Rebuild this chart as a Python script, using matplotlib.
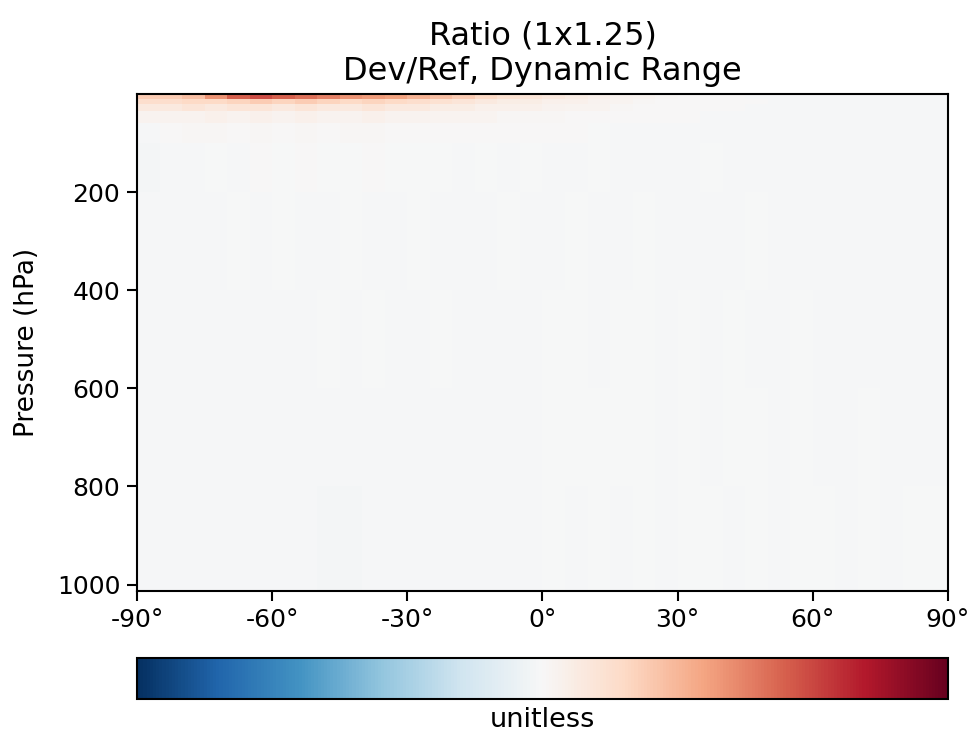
import matplotlib
matplotlib.use("Agg")
import matplotlib.pyplot as plt
import numpy as np

# zonal-mean ratio (Dev/Ref), 5 deg latitude bands x pressure layers
lat_edges = list(range(-90, 95, 5))
pres_edges = [0.01, 3, 10, 20, 35, 60, 100, 200, 400, 600, 800, 1013]

# rows top (low pressure) -> bottom (surface), columns -90 -> 90
ratio_rows = [
    [0.70, 0.86, 1.05, 1.22, 1.32, 1.34, 1.31, 1.28, 1.25, 1.22, 1.20, 1.18,
     1.16, 1.14, 1.12, 1.10, 1.08, 1.06, 1.05, 1.04, 1.03, 1.02, 1.01, 1.005,
     1.00, 1.00, 0.995, 0.995, 0.995, 0.995, 0.995, 0.995, 0.995, 0.995, 0.995, 0.995],
    [1.10, 1.10, 1.12, 1.18, 1.24, 1.26, 1.24, 1.22, 1.20, 1.18, 1.17, 1.16,
     1.14, 1.12, 1.10, 1.08, 1.06, 1.05, 1.04, 1.03, 1.02, 1.015, 1.01, 1.005,
     1.00, 1.00, 1.00, 0.995, 0.995, 0.995, 0.995, 0.995, 0.995, 0.995, 0.995, 0.995],
    [1.07, 1.07, 1.08, 1.08, 1.09, 1.10, 1.09, 1.10, 1.09, 1.08, 1.09, 1.08,
     1.07, 1.06, 1.05, 1.04, 1.03, 1.03, 1.02, 1.02, 1.015, 1.01, 1.005, 1.00,
     1.00, 1.00, 1.00, 1.00, 0.995, 0.995, 0.995, 0.995, 0.995, 0.995, 0.995, 0.995],
    [1.04, 1.04, 1.05, 1.04, 1.05, 1.05, 1.04, 1.05, 1.04, 1.04, 1.05, 1.04,
     1.04, 1.03, 1.03, 1.02, 1.02, 1.02, 1.015, 1.01, 1.01, 1.005, 1.00, 1.00,
     1.00, 1.00, 1.00, 0.995, 0.995, 0.995, 0.995, 0.995, 0.995, 0.995, 0.995, 0.995],
    [1.015, 1.015, 1.015, 1.02, 1.015, 1.02, 1.015, 1.02, 1.015, 1.015, 1.02, 1.015,
     1.015, 1.01, 1.01, 1.01, 1.005, 1.005, 1.005, 1.00, 1.00, 1.00, 1.00, 1.00,
     1.00, 0.995, 0.995, 0.995, 0.995, 0.995, 0.995, 0.995, 0.995, 0.995, 0.995, 0.995],
    [0.995, 1.00, 1.005, 1.005, 1.00, 1.005, 1.00, 1.005, 1.00, 1.005, 1.005, 1.00,
     1.00, 1.00, 1.00, 1.00, 1.00, 1.00, 1.00, 1.00, 0.997, 0.995, 0.995, 0.995,
     0.995, 0.995, 0.995, 0.995, 0.995, 0.995, 0.995, 0.995, 0.995, 0.995, 0.995, 0.995],
    [0.992, 0.995, 0.995, 0.997, 0.995, 1.00, 0.997, 1.00, 0.997, 0.997, 1.00, 0.997,
     0.997, 0.997, 0.995, 0.997, 0.995, 0.997, 0.995, 0.995, 0.997, 0.995, 0.995, 0.995,
     0.995, 0.997, 0.995, 0.995, 0.995, 0.995, 0.995, 0.995, 0.995, 0.995, 0.995, 0.995],
    [0.995, 0.995, 0.995, 0.995, 0.997, 0.995, 0.997, 0.995, 0.995, 0.997, 0.995, 0.995,
     0.997, 0.995, 0.995, 0.995, 0.997, 0.995, 0.995, 0.997, 0.995, 0.995, 0.997, 0.995,
     0.995, 0.995, 0.995, 0.997, 0.995, 0.995, 0.995, 0.995, 0.995, 0.995, 0.995, 0.995],
    [0.995, 0.995, 0.995, 0.995, 0.995, 0.995, 0.995, 0.995, 0.997, 0.995, 0.997, 0.995,
     0.995, 0.997, 0.995, 0.995, 0.995, 0.995, 0.997, 0.997, 0.995, 0.997, 0.997, 0.995,
     0.997, 0.995, 0.997, 0.995, 0.995, 0.997, 0.995, 0.995, 0.995, 0.995, 0.995, 0.995],
    [0.995, 0.995, 0.995, 0.995, 0.995, 0.995, 0.995, 0.995, 0.995, 0.995, 0.995, 0.995,
     0.995, 0.995, 0.995, 0.995, 0.995, 0.995, 0.997, 0.997, 0.997, 0.997, 0.997, 0.995,
     0.997, 0.995, 0.997, 0.997, 0.995, 0.997, 0.995, 0.995, 0.997, 0.995, 0.995, 0.995],
    [0.995, 0.995, 0.995, 0.995, 0.995, 0.995, 0.995, 0.995, 0.992, 0.992, 0.995, 0.995,
     0.995, 0.995, 0.995, 0.995, 0.995, 0.995, 0.997, 0.995, 0.997, 0.995, 0.997, 0.995,
     0.997, 0.997, 0.995, 0.997, 0.995, 0.997, 0.997, 0.995, 0.997, 0.995, 0.997, 0.997],
]

lat_ticks = [-90, -60, -30, 0, 30, 60, 90]
pres_ticks = [200, 400, 600, 800, 1000]
vmin, vmax = 0.6, 1.4

fig = plt.figure(figsize=(9.73, 7.39), dpi=100)
ax = fig.add_axes([0.1408, 0.2003, 0.8335, 0.6725])
cax = fig.add_axes([0.1408, 0.0541, 0.8335, 0.0555])

mesh = ax.pcolormesh(lat_edges, pres_edges, np.array(ratio_rows),
                     cmap="RdBu_r", vmin=vmin, vmax=vmax, shading="flat")
ax.set_xlim(-90, 90)
ax.set_ylim(1013, 0.01)
ax.set_xticks(lat_ticks)
ax.set_xticklabels([f"{t}°" for t in lat_ticks])
ax.set_yticks(pres_ticks)
ax.tick_params(labelsize=18, length=7, width=1.5, pad=5)
for s in ax.spines.values():
    s.set_linewidth(1.5)
ax.set_ylabel("Pressure (hPa)", fontsize=19, labelpad=12)
ax.set_title("Ratio (1x1.25)\nDev/Ref, Dynamic Range", fontsize=23, pad=10)

cbar = fig.colorbar(mesh, cax=cax, orientation="horizontal")
cbar.set_ticks([])
cbar.outline.set_linewidth(1.5)
cbar.set_label("unitless", fontsize=19.5, labelpad=6)

plt.savefig("out.png", dpi=100)
plt.close()
